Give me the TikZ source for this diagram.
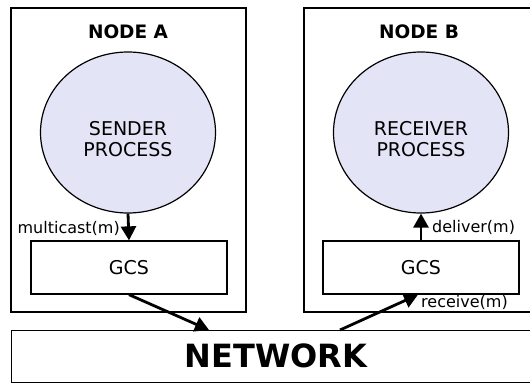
\documentclass[tikz,border=0pt]{standalone}
\usepackage{fontspec}
\setmainfont{DejaVu Sans}
\usetikzlibrary{arrows.meta,shapes.geometric}
\definecolor{procfill}{RGB}{228,228,247}
\begin{document}
\begin{tikzpicture}[x=1pt,y=-1pt,
  hostbox/.style={draw,line width=1.3pt},
  gcsbox/.style={draw,line width=1.3pt,minimum width=196pt,minimum height=53pt,inner sep=0pt,font=\fontsize{19}{21}\selectfont},
  proc/.style={draw,line width=1.2pt,fill=procfill,ellipse,minimum width=175pt,minimum height=161pt,inner sep=0pt},
  proctext/.style={align=center,inner sep=0pt,font=\fontsize{19}{21.5}\selectfont},
  title/.style={font=\bfseries\fontsize{18.5}{20}\selectfont},
  lbl/.style={font=\fontsize{16}{18}\selectfont,inner sep=1pt},
  msg/.style={line width=2.8pt,-{Triangle[length=14pt,width=15pt]}}]
\useasboundingbox (0,0) rectangle (530,383);
\clip (0,0) rectangle (530,383);
\draw[hostbox] (11,8) rectangle (246,312);
\draw[hostbox] (304,8) rectangle (545,312);
\node[title] (ta) at (128,31.5) {NODE A};
\node[title] (tb) at (419,31.5) {NODE B};
\node[proc] (pa) at (128,132.5) {};
\node[proc] (pb) at (421,132.5) {};
\node[proctext] (pat) at (128,139) {SENDER\\PROCESS};
\node[proctext] (pbt) at (421,139) {RECEIVER\\PROCESS};
\node[gcsbox] (ga) at (129,267.5) {GCS};
\node[gcsbox] (gb) at (421,267.5) {GCS};
\node[draw,line width=1.3pt,minimum width=540pt,minimum height=52pt,anchor=north west,inner sep=0pt] (net) at (11,330) {};
\node[font=\bfseries\fontsize{32}{34}\selectfont] (nt) at (276,356) {NETWORK};
\coordinate (netin) at (209,330);
\coordinate (netout) at (340,330);
\draw[msg] (pa.south) -- (ga.north);
\draw[msg] (gb.north) -- (pb.south);
\draw[msg] (ga.south) -- (netin);
\draw[msg] (netout) -- ([xshift=-3pt]gb.south);
\node[lbl,anchor=east] (lm) at (121,228) {multicast(m)};
\node[lbl,anchor=west] (ld) at (431,227) {deliver(m)};
\node[lbl,anchor=west] (lr) at (420,302.5) {receive(m)};
\end{tikzpicture}
\end{document}
